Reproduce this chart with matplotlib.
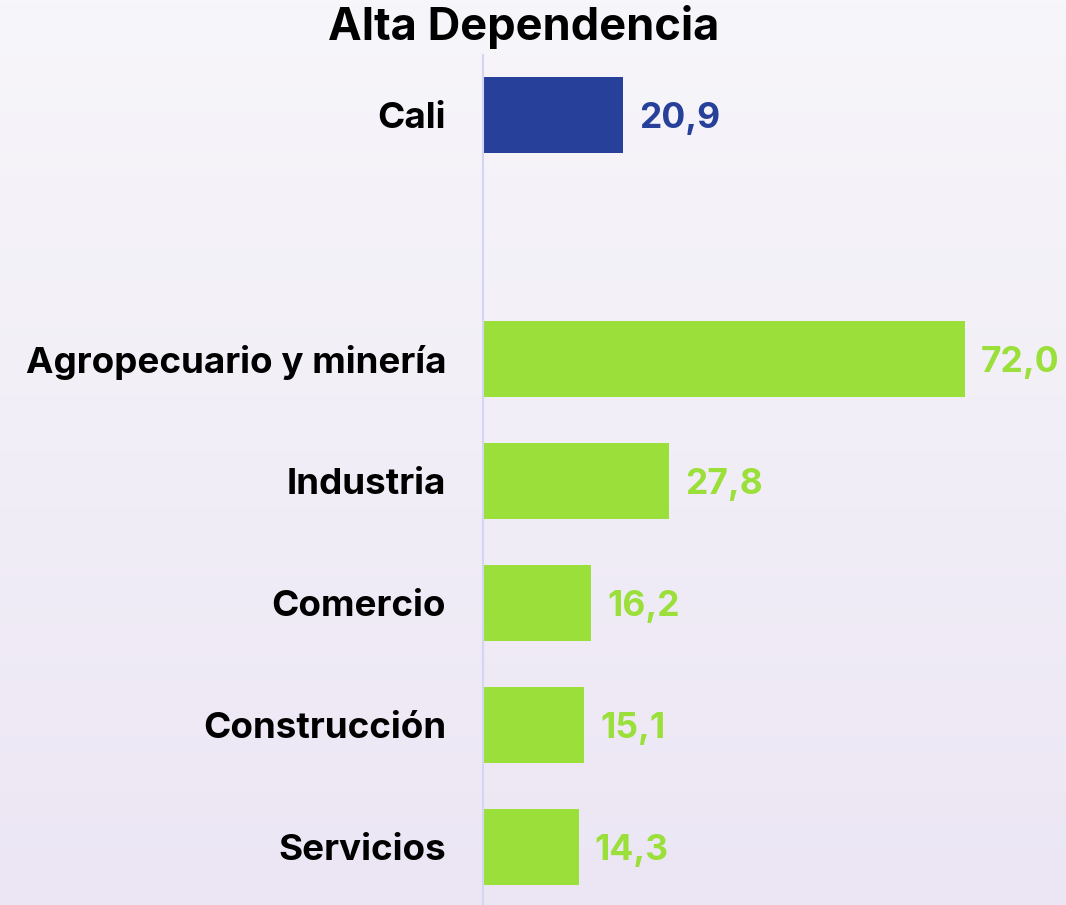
import numpy as np
import matplotlib.pyplot as plt

categories = ['Cali', 'Agropecuario y minería', 'Industria', 'Comercio', 'Construcción', 'Servicios']
values = [20.9, 72.0, 27.8, 16.2, 15.1, 14.3]
positions = [0, 2, 3, 4, 5, 6]
colors = ['#27409a', '#9bdf3a', '#9bdf3a', '#9bdf3a', '#9bdf3a', '#9bdf3a']
labels = ['20,9', '72,0', '27,8', '16,2', '15,1', '14,3']

plt.rcParams['font.family'] = ['Inter', 'DejaVu Sans']

fig = plt.figure(figsize=(10.66, 9.05), dpi=100)

# background gradient
bg = fig.add_axes([0, 0, 1, 1], zorder=-1)
grad = np.linspace(0, 1, 256).reshape(-1, 1)
top = np.array([247, 246, 250]) / 255
bot = np.array([236, 230, 244]) / 255
img = top + (bot - top) * grad[:, :, None]
bg.imshow(img, aspect='auto', extent=[0, 1, 0, 1])
bg.axis('off')

W, H = 1066, 905
left = 483 / W
ax = fig.add_axes([left, 0, 1 - left, (905 - 55) / H])
ax.patch.set_alpha(0)

ax.barh(positions, values, height=0.62, color=colors)
for p, v, c, t in zip(positions, values, colors, labels):
    ax.text(v + 2.4, p + 0.03, t, color=c, fontsize=25.5, fontweight='bold', va='center', ha='left')

ax.set_xlim(0, (W - 483) / 6.69)
ax.set_ylim(6.475, -0.49)
ax.set_yticks(positions)
ax.set_yticklabels(categories, fontsize=26.5, fontweight='bold')
ax.tick_params(axis='y', length=0, pad=26.5)
ax.set_xticks([])
for s in ['top', 'right', 'bottom']:
    ax.spines[s].set_visible(False)
ax.spines['left'].set_color('#d4d4f4')
ax.spines['left'].set_linewidth(1.5)

fig.text(524 / W, 1 - 27 / H, 'Alta Dependencia', fontsize=32.5, fontweight='bold',
         ha='center', va='center')

fig.savefig('out.png', dpi=100)
